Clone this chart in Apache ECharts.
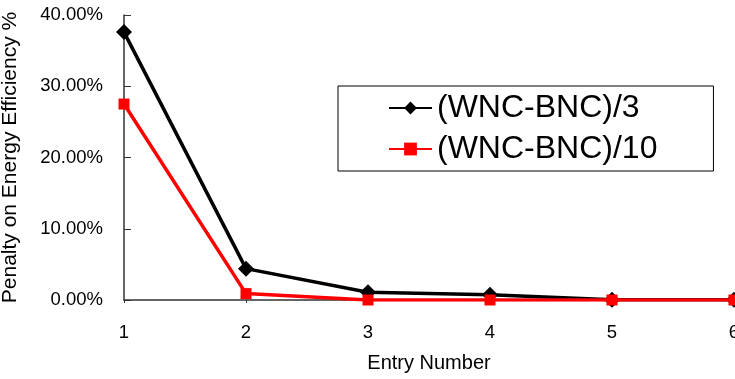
<!DOCTYPE html>
<html>
<head>
<meta charset="utf-8">
<script src="https://cdn.jsdelivr.net/npm/echarts@6/dist/echarts.min.js"></script>
<style>
html,body{margin:0;padding:0;background:#fff;}
#chart{width:735px;height:379px;}
</style>
</head>
<body>
<div id="chart"></div>
<script>
const categories = ['1', '2', '3', '4', '5', '6'];
const seriesNames = ['(WNC-BNC)/3', '(WNC-BNC)/10'];
const wnc3 = [37.6, 4.4, 1.1, 0.75, 0.05, 0.05];
const wnc10 = [27.5, 0.9, 0.0, 0.0, 0.0, 0.0];
const yTicks = [0, 10, 20, 30, 40];

const FONT = '"Liberation Sans", Arial, Helvetica, sans-serif';
const chart = echarts.init(document.getElementById('chart'), null, {renderer: 'canvas'});
chart.setOption({
  animation: false,
  backgroundColor: '#fff',
  textStyle: {fontFamily: FONT},
  grid: {left: 124, right: 1, top: 15, bottom: 79, containLabel: false, outerBoundsMode: 'none'},
  legend: {
    orient: 'vertical',
    left: 338,
    top: 86,
    padding: [6, 56, 6, 50],
    itemGap: 9,
    itemWidth: 43,
    itemHeight: 16,
    borderColor: '#000',
    borderWidth: 1,
    backgroundColor: '#fff',
    textStyle: {fontFamily: FONT, fontSize: 32, color: '#000'},
    data: seriesNames
  },
  xAxis: {
    type: 'category',
    data: categories,
    boundaryGap: false,
    name: 'Entry Number',
    nameLocation: 'middle',
    nameGap: 53,
    nameTextStyle: {fontFamily: FONT, fontSize: 20, color: '#000'},
    axisLine: {lineStyle: {color: '#333', width: 1.5}},
    axisTick: {show: true, length: 3, lineStyle: {color: '#333'}},
    axisLabel: {fontFamily: FONT, fontSize: 18.5, color: '#000', margin: 23},
    splitLine: {show: false}
  },
  yAxis: {
    type: 'value',
    min: yTicks[0],
    max: yTicks[yTicks.length - 1],
    interval: 10,
    name: 'Penalty on Energy Efficiency %',
    nameLocation: 'middle',
    nameGap: 103,
    nameRotate: 90,
    nameTextStyle: {fontFamily: FONT, fontSize: 21, color: '#000'},
    axisLine: {show: true, lineStyle: {color: '#333', width: 1.5}},
    axisTick: {show: true, inside: true, length: 7, lineStyle: {color: '#333'}},
    axisLabel: {fontFamily: FONT, fontSize: 18.5, color: '#000', margin: 21,
      formatter: v => v.toFixed(2) + '%'},
    splitLine: {show: false}
  },
  series: [
    {
      name: seriesNames[0],
      type: 'line',
      data: wnc3,
      symbol: 'diamond',
      symbolSize: 16,
      lineStyle: {color: '#000', width: 3.5},
      itemStyle: {color: '#000'},
      z: 2
    },
    {
      name: seriesNames[1],
      type: 'line',
      data: wnc10,
      symbol: 'rect',
      symbolSize: 11,
      lineStyle: {color: '#ff0000', width: 3.5},
      itemStyle: {color: '#ff0000'},
      z: 3
    }
  ]
});
</script>
</body>
</html>
